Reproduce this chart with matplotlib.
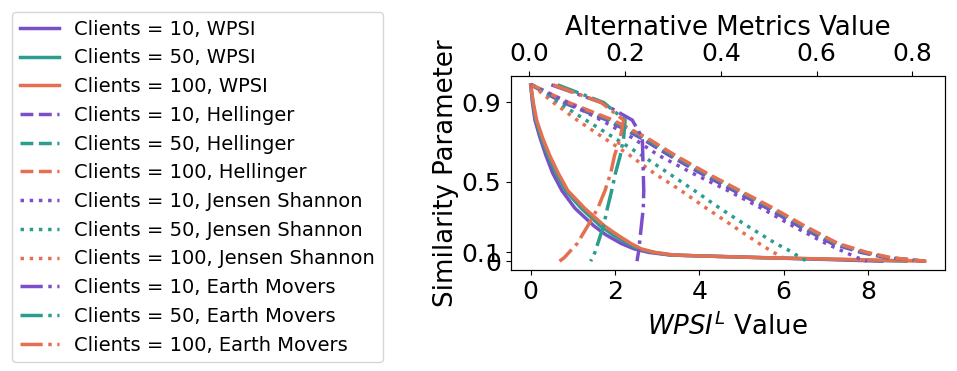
import matplotlib
matplotlib.use("Agg")
import matplotlib.pyplot as plt
from matplotlib.ticker import MultipleLocator

# similarity parameter grid (y) for the WPSI curves
wpsi_sim = [1.0, 0.9, 0.8, 0.7, 0.6, 0.5, 0.4, 0.3, 0.2, 0.15, 0.1, 0.07, 0.05, 0.035, 0.03, 0.02, 0.01, 0.0]
wpsi_10 = [0, 0.04, 0.1, 0.22, 0.36, 0.52, 0.74, 1.05, 1.5, 1.78, 2.15, 2.45, 2.8, 3.3, 4.0, 5.5, 7.0, 8.33]
wpsi_50 = [0, 0.05, 0.12, 0.25, 0.41, 0.6, 0.83, 1.2, 1.65, 1.95, 2.3, 2.55, 2.9, 3.35, 4.0, 5.5, 7.3, 8.9]
wpsi_100 = [0, 0.06, 0.14, 0.28, 0.45, 0.65, 0.88, 1.28, 1.75, 2.05, 2.38, 2.62, 2.95, 3.4, 4.0, 5.5, 7.5, 9.35]

# similarity parameter grid for the alternative metrics (top axis)
alt_sim = [1.0, 0.9, 0.8, 0.7, 0.6, 0.5, 0.4, 0.3, 0.2, 0.1, 0.05, 0.02, 0.0]
hel_10 = [0.003, 0.07, 0.162, 0.232, 0.292, 0.357, 0.427, 0.497, 0.562, 0.632, 0.692, 0.745, 0.826]
hel_50 = [0.004, 0.078, 0.17, 0.24, 0.3, 0.366, 0.436, 0.506, 0.571, 0.641, 0.701, 0.752, 0.826]
hel_100 = [0.005, 0.082, 0.175, 0.245, 0.305, 0.37, 0.44, 0.51, 0.575, 0.645, 0.705, 0.755, 0.826]
js_10 = [0.005, 0.08, 0.15, 0.215, 0.27, 0.34, 0.415, 0.485, 0.55, 0.62, 0.66, 0.685, 0.705]
js_50 = [0.005, 0.06, 0.118, 0.177, 0.235, 0.29, 0.345, 0.398, 0.455, 0.515, 0.55, 0.565, 0.581]
js_100 = [0.005, 0.05, 0.1, 0.155, 0.21, 0.26, 0.317, 0.37, 0.425, 0.48, 0.51, 0.53, 0.543]
em_10 = [0.046, 0.15, 0.215, 0.236, 0.237, 0.238, 0.239, 0.238, 0.234, 0.23, 0.228, 0.226, 0.225]
em_50 = [0.059, 0.155, 0.2, 0.197, 0.19, 0.18, 0.172, 0.163, 0.155, 0.143, 0.137, 0.132, 0.128]
em_100 = [0.05, 0.15, 0.197, 0.19, 0.178, 0.17, 0.158, 0.143, 0.122, 0.1, 0.083, 0.073, 0.063]

clients = [10, 50, 100]
colors = ["#7b4fc9", "#2a9d8f", "#e76f51"]

ytick_pos = [0, 0.05, 0.45, 0.9]
ytick_lab = ["0", "0.1", "0.5", "0.9"]

fig = plt.figure(figsize=(9.57, 3.71), dpi=100)
ax = fig.add_axes([0.534, 0.2722, 0.453, 0.5229])
ax2 = ax.twiny()

lw = 2.5
handles = []
for c, col, xs in zip(clients, colors, [wpsi_10, wpsi_50, wpsi_100]):
    h, = ax.plot(xs, wpsi_sim, color=col, lw=lw, ls="-", label="Clients = %d, WPSI" % c)
    handles.append(h)
for name, ls, series in [("Hellinger", "--", [hel_10, hel_50, hel_100]),
                         ("Jensen Shannon", ":", [js_10, js_50, js_100]),
                         ("Earth Movers", "-.", [em_10, em_50, em_100])]:
    for c, col, xs in zip(clients, colors, series):
        h, = ax2.plot(xs, alt_sim, color=col, lw=lw, ls=ls, label="Clients = %d, %s" % (c, name))
        handles.append(h)

ax.set_yticks(ytick_pos)
ax.set_yticklabels(ytick_lab)
ax.xaxis.set_major_locator(MultipleLocator(2))
ax2.xaxis.set_major_locator(MultipleLocator(0.2))
ax.tick_params(labelsize=18)
ax2.tick_params(labelsize=18)
ax.set_xlabel("$WPSI^L$ Value", fontsize=18.7, labelpad=6)
ax.set_ylabel("Similarity Parameter", fontsize=18.7, labelpad=2)
ax2.set_xlabel("Alternative Metrics Value", fontsize=18.7, labelpad=5)

fig.legend(handles=handles, loc="upper left", bbox_to_anchor=(0.0125, 0.968),
           borderaxespad=0, fontsize=14)

fig.savefig("out.png", dpi=100)
